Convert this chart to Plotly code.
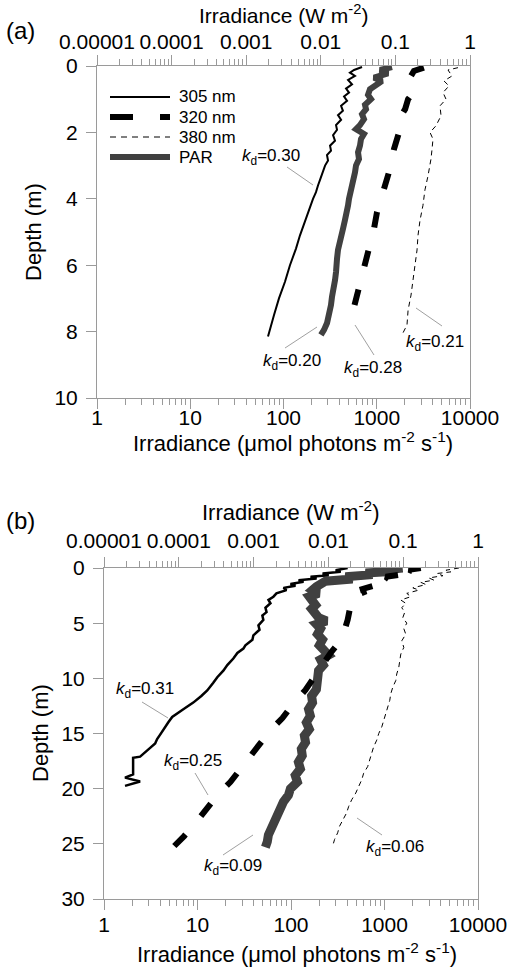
import plotly.graph_objects as go

# ---------------- Panel (a) data ----------------
# UV irradiance in W m-2 (top axis), PAR in umol photons m-2 s-1 (bottom axis)
a305_depth = [0.03, 0.12, 0.2, 0.3, 0.42, 0.55, 0.68, 0.8, 0.92, 1.05, 1.2, 1.35, 1.48, 1.62, 1.78, 1.92,
              2.08, 2.25, 2.4, 2.55, 2.68, 2.85, 3.0, 3.2, 3.43, 3.6, 3.8, 4.0, 4.5, 5.1, 5.5, 6.0, 6.5,
              7.0, 7.5, 7.9, 8.15]
a305_irr = [0.0357, 0.0279, 0.0246, 0.0287, 0.0232, 0.0262, 0.0218, 0.0239, 0.0205, 0.0225, 0.0187, 0.0198,
            0.0170, 0.0187, 0.0160, 0.0165, 0.0146, 0.0155, 0.0133, 0.0137, 0.0121, 0.0125, 0.0114, 0.0107,
            0.00976, 0.00917, 0.00862, 0.00786, 0.00653, 0.00526, 0.00465, 0.00386, 0.00331, 0.00275,
            0.00236, 0.00208, 0.00196]

a320_depth = [0.05, 0.15, 0.35, 0.5, 0.8, 1.0, 1.3, 1.6, 2.0, 2.5, 3.2, 3.7, 4.4, 4.9, 5.6, 6.2, 6.9, 7.5]
a320_irr = [0.241, 0.177, 0.157, 0.172, 0.172, 0.148, 0.135, 0.112, 0.112, 0.0957, 0.0820, 0.0703,
            0.0567, 0.0517, 0.0429, 0.0368, 0.0315, 0.0262]

a380_depth = [0.05, 0.12, 0.3, 0.45, 0.6, 0.8, 1.0, 1.2, 1.5, 1.8, 2.0, 2.2, 2.5, 2.8, 3.3, 3.73, 4.2,
              4.64, 5.1, 5.54, 6.0, 6.45, 6.9, 7.35, 7.8, 8.1]
a380_irr = [0.690, 0.507, 0.574, 0.448, 0.523, 0.435, 0.477, 0.396, 0.409, 0.350, 0.291, 0.319, 0.310,
            0.300, 0.274, 0.249, 0.234, 0.214, 0.201, 0.195, 0.183, 0.172, 0.162, 0.148, 0.143, 0.1225]

aPAR_depth = [0.03, 0.12, 0.22, 0.35, 0.45, 0.57, 0.7, 0.87, 1.0, 1.17, 1.3, 1.45, 1.6, 1.78, 1.9, 2.05,
              2.2, 2.4, 2.6, 2.8, 3.0, 3.2, 3.45, 3.73, 4.0, 4.2, 4.4, 4.64, 4.9, 5.1, 5.3, 5.54, 5.8,
              6.0, 6.2, 6.45, 6.7, 6.96, 7.2, 7.5, 7.74, 7.95, 8.1]
aPAR_irr = [1457, 1084, 1320, 934, 1138, 1006, 846, 806, 868, 748, 767, 695, 730, 661, 599, 730, 678, 661,
            630, 645, 599, 585, 556, 517, 504, 492, 468, 456, 435, 414, 404, 384, 375, 375, 366, 357, 340,
            331, 323, 308, 293, 272, 252]

# ---------------- Panel (b) data ----------------
b305_depth = [0.0, 0.2, 0.35, 0.5, 0.65, 0.8, 0.95, 1.1, 1.25, 1.45, 1.6, 1.8, 2.0, 2.3, 2.6, 2.9, 3.2, 3.6,
              4.0, 4.3, 4.7, 5.2, 5.6, 6.1, 6.5, 7.0, 7.3, 7.7, 8.2, 8.8, 9.3, 9.9, 10.4, 11.1, 11.6,
              12.2, 12.8, 13.5, 14.0, 14.3, 14.7, 15.1, 15.5, 15.9, 16.3, 16.7, 17.1, 17.2, 18.7, 19.0,
              19.35, 19.75]
b305_irr = [0.0181, 0.0125, 0.0146, 0.00836, 0.0101, 0.00577, 0.00695, 0.00399, 0.00465, 0.00311, 0.00363,
            0.00251, 0.00275, 0.00202, 0.00184, 0.00158, 0.00168, 0.00144, 0.00149, 0.00131, 0.00135,
            0.00116, 0.00120, 0.000993, 0.000964, 0.000777, 0.000730, 0.000607, 0.000536, 0.000445,
            0.000394, 0.000327, 0.000289, 0.000240, 0.000200, 0.000156, 0.000115, 0.0000816,
            0.0000721, 0.0000678, 0.0000618, 0.0000563, 0.0000513, 0.0000483, 0.0000414, 0.0000355,
            0.0000304, 0.0000245, 0.0000245, 0.0000191, 0.0000304, 0.0000191]

b320_depth = [0.0, 0.15, 0.3, 0.45, 0.6, 0.8, 1.0, 1.3, 1.55, 1.9, 2.2, 2.6, 2.9, 3.3, 4.7, 5.9, 6.9, 7.7,
              9.3, 11.06, 12.4, 13.6, 14.7, 16.5, 17.6, 19.4, 20.6, 22.4, 23.5, 24.3, 25.3]
b320_irr = [0.172, 0.119, 0.135, 0.0820, 0.0929, 0.0585, 0.0641, 0.0391, 0.0429, 0.0287, 0.0296, 0.0211,
            0.0199, 0.0199, 0.0181, 0.0160, 0.0133, 0.0107, 0.00740, 0.00494, 0.00331, 0.00243,
            0.00168, 0.00106, 0.000777, 0.000489, 0.000327, 0.000206, 0.000151, 0.000118, 0.0000841]

b380_depth = [0.0, 0.2, 0.35, 0.5, 0.7, 0.9, 1.1, 1.3, 1.5, 1.8, 2.0, 2.3, 2.6, 2.9, 3.2, 3.6, 4.0, 4.5,
              5.0, 5.5, 6.0, 6.6, 7.2, 7.8, 8.4, 9.0, 9.6, 10.2, 10.8, 11.4, 12.0, 12.6, 13.2, 13.8,
              14.4, 15.0, 15.6, 16.2, 16.8, 17.4, 18.0, 18.6, 19.2, 19.8, 20.4, 21.0, 21.6, 22.2,
              22.8, 23.4, 24.0, 24.6, 25.2]
b380_irr = [0.556, 0.373, 0.435, 0.282, 0.340, 0.220, 0.257, 0.172, 0.201, 0.1346, 0.162, 0.1117, 0.1265,
            0.0929, 0.1083, 0.0957, 0.1050, 0.0988, 0.1117, 0.1019, 0.1083, 0.0957, 0.1019, 0.0929,
            0.0900, 0.0873, 0.0820, 0.0796, 0.0726, 0.0682, 0.0661, 0.0622, 0.0585, 0.0550, 0.0517,
            0.0471, 0.0443, 0.0403, 0.0380, 0.0357, 0.0335, 0.0296, 0.0279, 0.0254, 0.0232, 0.0205,
            0.0187, 0.0175, 0.0155, 0.0141, 0.0133, 0.0121, 0.0114]

bPAR_depth = [0.0, 0.15, 0.3, 0.45, 0.6, 0.8, 1.0, 1.2, 1.4, 1.7, 2.0, 2.3, 2.6, 3.0, 3.35, 3.7, 4.1, 4.5,
              4.8, 5.1, 5.5, 6.0, 6.5, 7.0, 7.5, 7.9, 8.3, 8.8, 9.3, 9.8, 10.4, 11.0, 11.6, 12.2, 12.8,
              13.4, 14.0, 14.6, 15.2, 15.8, 16.4, 17.0, 17.6, 18.2, 18.8, 19.4, 20.0, 20.6, 21.2, 21.8,
              22.4, 23.0, 23.6, 24.2, 24.8, 25.3]
bPAR_irr = [1563, 1028, 1315, 627, 745, 383, 455, 234, 207, 187, 170, 197, 157, 170, 183, 166, 178, 197,
            240, 187, 207, 192, 217, 201, 228, 252, 207, 222, 197, 192, 183, 187, 166, 170, 154, 161, 146,
            157, 139, 143, 129, 132, 120, 126, 111, 117, 98.6, 93.8, 83.0, 76.9, 71.5, 66.4, 60.1, 57.3,
            55.8, 53.2]

# ---------------- Text ----------------
wl_labels = ["305 nm", "320 nm", "380 nm", "PAR"]
kd_a = ["0.30", "0.20", "0.28", "0.21"]
kd_b = ["0.31", "0.25", "0.09", "0.06"]
umol_ticks = [1, 10, 100, 1000, 10000]
umol_text = ["1", "10", "100", "1000", "10000"]
wm2_ticks = [0.00001, 0.0001, 0.001, 0.01, 0.1, 1]
wm2_text = ["0.00001", "0.0001", "0.001", "0.01", "0.1", "1"]
depth_ticks_a = [0, 2, 4, 6, 8, 10]
depth_ticks_b = [0, 5, 10, 15, 20, 25, 30]
title_umol = "Irradiance (\u03bcmol photons m<sup>-2</sup> s<sup>-1</sup>)"
title_wm2 = "Irradiance (W m<sup>-2</sup>)"

# ---------------- Figure ----------------
W, H = 514, 969
FONT = "Liberation Sans, Arial, sans-serif"
AX = "#9a9a9a"
PARC = "#404040"
TICK_SIZE = 21
TITLE_SIZE = 22


def P(x, y):
    return x / W, 1 - y / H


fig = go.Figure()


def add_panel(xb, xt, yax, d305, i305, d320, i320, d380, i380, dpar, ipar, w305, wpar):
    fig.add_trace(go.Scatter(x=ipar, y=dpar, mode="lines", xaxis=xb, yaxis=yax,
                             line=dict(color=PARC, width=wpar), showlegend=False, name="PAR"))
    fig.add_trace(go.Scatter(x=i305, y=d305, mode="lines", xaxis=xt, yaxis=yax,
                             line=dict(color="black", width=w305), showlegend=False, name="305 nm"))
    fig.add_trace(go.Scatter(x=i320, y=d320, mode="lines", xaxis=xt, yaxis=yax,
                             line=dict(color="black", width=6, dash="16px,24px"), showlegend=False,
                             name="320 nm"))
    fig.add_trace(go.Scatter(x=i380, y=d380, mode="lines", xaxis=xt, yaxis=yax,
                             line=dict(color="black", width=1, dash="5px,4px"), showlegend=False,
                             name="380 nm"))


add_panel("x", "x2", "y", a305_depth, a305_irr, a320_depth, a320_irr, a380_depth, a380_irr,
          aPAR_depth, aPAR_irr, 2, 6)
add_panel("x3", "x4", "y2", b305_depth, b305_irr, b320_depth, b320_irr, b380_depth, b380_irr,
          bPAR_depth, bPAR_irr, 2.5, 9)

minor_umol = [m * 10 ** e for e in range(0, 4) for m in range(2, 10)]
minor_wm2 = [m * 10.0 ** e for e in range(-5, 0) for m in range(2, 10)]

base = dict(showline=True, linecolor=AX, linewidth=1, ticks="outside", tickcolor=AX, ticklen=10,
            tickwidth=1, showgrid=False, zeroline=False, automargin=False, tickangle=0,
            tickfont=dict(size=TICK_SIZE, color="black", family=FONT))


def xlog(dom, rng, tv, tt, minor, side, **kw):
    d = dict(base)
    d.update(type="log", domain=dom, range=rng, tickmode="array", tickvals=tv, ticktext=tt, side=side,
             minor=dict(tickmode="array", tickvals=minor, ticks="outside", ticklen=6, tickcolor=AX,
                        showgrid=False))
    d.update(kw)
    return d


xa_dom = [97 / W, 470 / W]
ya_dom = [1 - 398 / H, 1 - 66 / H]
xb_dom = [104 / W, 478 / W]
yb_dom = [1 - 899 / H, 1 - 568 / H]

fig.update_layout(
    width=W, height=H, margin=dict(l=0, r=0, t=0, b=0, autoexpand=False),
    paper_bgcolor="white", plot_bgcolor="white", showlegend=False,
    font=dict(family=FONT, color="black"),
    xaxis=xlog(xa_dom, [0, 4], umol_ticks, umol_text, minor_umol, "bottom", anchor="y",
               ticklabelstandoff=-9),
    xaxis2=xlog(xa_dom, [-5, 0], wm2_ticks, wm2_text, minor_wm2, "top", anchor="y", overlaying="x",
                ticklabelstandoff=-2),
    yaxis=dict(base, domain=ya_dom, range=[10, 0], tickmode="array", tickvals=depth_ticks_a,
               anchor="x", mirror=True, ticklabelstandoff=4),
    xaxis3=xlog(xb_dom, [0, 4], umol_ticks, umol_text, minor_umol, "bottom", anchor="y2",
                ticklabelstandoff=-3),
    xaxis4=xlog(xb_dom, [-5, 0], wm2_ticks, wm2_text, minor_wm2, "top", anchor="y2", overlaying="x3",
                ticklabelstandoff=1),
    yaxis2=dict(base, domain=yb_dom, range=[30, 0], tickmode="array", tickvals=depth_ticks_b,
                anchor="x3", mirror=True, ticklabelstandoff=4),
)

ann = []
shapes = []


def text(x, y, s, size, xanchor="center", angle=0):
    px, py = P(x, y)
    ann.append(dict(x=px, y=py, xref="paper", yref="paper", text=s, showarrow=False, xanchor=xanchor,
                    yanchor="middle", textangle=angle, font=dict(size=size, family=FONT, color="black")))


def seg(x0, y0, x1, y1, color="#a0a0a0", width=1, dash="solid"):
    a0, b0 = P(x0, y0)
    a1, b1 = P(x1, y1)
    shapes.append(dict(type="line", xref="paper", yref="paper", x0=a0, y0=b0, x1=a1, y1=b1,
                       line=dict(color=color, width=width, dash=dash)))


# panel labels and axis titles
text(20, 31, "(a)", 24)
text(20, 520, "(b)", 24)
text(283, 14, title_wm2, 21)
text(291, 511, title_wm2, TITLE_SIZE)
text(293, 442, title_umol, TITLE_SIZE)
text(297, 953, title_umol, TITLE_SIZE)
text(33, 232, "Depth (m)", TITLE_SIZE, angle=-90)
text(40, 733, "Depth (m)", TITLE_SIZE, angle=-90)

# legend (panel a)
leg_y = [97, 117, 137, 157]
leg_style = [("black", 2, "solid"), ("black", 6, "23px,27px"), ("black", 1, "6px,5px"), (PARC, 6, "solid")]
for yy, lab, (c, w, d) in zip(leg_y, wl_labels, leg_style):
    seg(110, yy, 170, yy, color=c, width=w, dash=d)
    text(177, yy, lab, 17, xanchor="left")

# kd labels with leader lines
kd_fmt = "<i>k</i><sub>d</sub>={}"
a_pos = [(271, 157, 287, 167, 313, 185), (292, 362, 285, 348, 317, 327),
         (373, 369, 355, 325, 374, 355), (435, 343, 416, 308, 442, 326)]
b_pos = [(145, 690, 142, 702, 168, 718), (193, 762, 195, 773, 208, 795),
         (233, 867, 223, 855, 253, 835), (395, 848, 357, 818, 382, 835)]
for k, (tx, ty, x0, y0, x1, y1) in zip(kd_a + kd_b, a_pos + b_pos):
    text(tx, ty, kd_fmt.format(k), 17)
    seg(x0, y0, x1, y1)

fig.update_layout(annotations=ann, shapes=shapes)
fig.write_html("out.html")
